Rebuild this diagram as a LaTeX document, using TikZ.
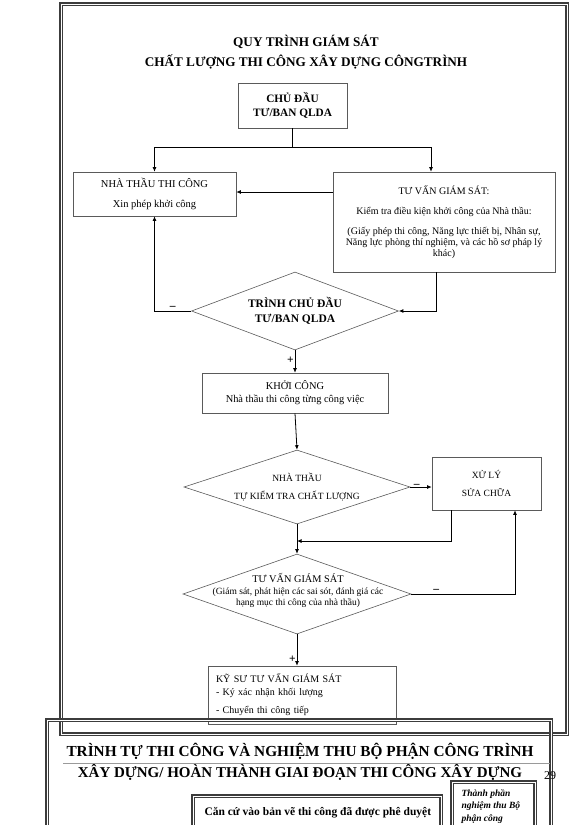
\documentclass[tikz,border=0pt]{standalone}
\usepackage{fontspec}
\setmainfont{Liberation Serif}
\usetikzlibrary{shapes.geometric,arrows.meta}
\definecolor{framegray}{HTML}{3C3C3C}
\definecolor{boxgray}{HTML}{5A5A5A}
\definecolor{rulegray}{HTML}{9A9A9A}

\begin{document}
\begin{tikzpicture}[x=1pt,y=-1pt, every node/.style={font=\fontsize{10.5}{12.5}\selectfont},
  box/.style={draw=boxgray,line width=0.6pt,rectangle,inner sep=0pt,align=center},
  dmd/.style={draw=boxgray,line width=0.6pt,diamond,inner sep=0pt},
  conn/.style={draw=black,line width=0.8pt,-{Latex[length=4.5pt,width=4pt]}},
  plain/.style={draw=black,line width=0.8pt},
  frame/.style={draw=framegray,double=white,line width=1.1pt,double distance=1pt},
  sign/.style={font=\fontsize{11.5}{12}\selectfont\bfseries,inner sep=1pt}]
  \useasboundingbox (0,0) rectangle (576,825);
  \draw[frame] (61,4) rectangle (567,734);
  \node[font=\fontsize{13.2}{15}\selectfont\bfseries] (title1) at (306,42) {QUY TRÌNH GIÁM SÁT};
  \node[font=\fontsize{13.2}{15}\selectfont\bfseries] (title2) at (306,62) {CHẤT LƯỢNG THI CÔNG XÂY DỰNG CÔNGTRÌNH};
  \node[box,minimum width=109pt,minimum height=45pt,font=\fontsize{11.3}{14}\selectfont\bfseries] (chudau) at (292.5,105.5) {CHỦ ĐẦU\\TƯ/BAN QLDA};
  \node[box,minimum width=163pt,minimum height=44pt] (nttc) at (154.5,194) {NHÀ THẦU THI CÔNG\\[7.5pt]Xin phép khởi công};
  \node[box,minimum width=222pt,minimum height=100pt,font=\fontsize{10}{11}\selectfont] (tvgs) at (444,222) {TƯ VẤN GIÁM SÁT:\\[9.5pt]Kiểm tra điều kiện khởi công của Nhà thầu:\\[9pt](Giấy phép thi công, Năng lực thiết bị, Nhân sự,\\Năng lực phòng thí nghiệm, và các hồ sơ pháp lý\\khác)};
  \node[dmd,minimum width=207pt,minimum height=78pt] (trinh) at (295,311) {};
  \node[align=center,font=\fontsize{11.5}{15}\selectfont\bfseries] (trinhtext) at (trinh) {TRÌNH CHỦ ĐẦU\\TƯ/BAN QLDA};
  \node[box,minimum width=186pt,minimum height=40pt,font=\fontsize{10.4}{13}\selectfont] (khoi) at (295,393) {KHỞI CÔNG\\Nhà thầu thi công từng công việc};
  \node[dmd,minimum width=226pt,minimum height=74pt] (tukt) at (297,487) {};
  \node[align=center,font=\fontsize{9.5}{11.5}\selectfont] (tukttext) at (tukt) {NHÀ THẦU\\[6.5pt]TỰ KIỂM TRA CHẤT LƯỢNG};
  \node[box,minimum width=109pt,minimum height=53pt,font=\fontsize{9.5}{11.5}\selectfont] (xuly) at (486.5,483.5) {XỬ LÝ\\[6.5pt]SỬA CHỮA};
  \node[dmd,minimum width=228pt,minimum height=80pt] (tvgs2) at (297,594) {};
  \node[align=center,font=\fontsize{9.5}{10.5}\selectfont] (tvgs2text) at (298,590) {{\fontsize{10.3}{11}\selectfont TƯ VẤN GIÁM SÁT}\\[2pt](Giám sát, phát hiện các sai sót, đánh giá các\\hạng mục thi công của nhà thầu)};
  \node[box,minimum width=188pt,minimum height=58pt,text width=172pt,align=left,font=\fontsize{10}{12.5}\selectfont] (kysu) at (302,695) {KỸ SƯ TƯ VẤN GIÁM SÁT\\- Ký xác nhận khối lượng\\[6pt]- Chuyển thi công tiếp};
  \coordinate (split) at (292.5,147);
  \coordinate (merge) at (297,541);
  \draw[plain] (chudau.south) -- (split);
  \draw[conn] (split) -| (nttc.north);
  \draw[conn] (split) -| ([xshift=-13pt]tvgs.north);
  \draw[conn] (tvgs.west |- 0,192) -- (nttc.east |- 0,192);
  \draw[conn] ([xshift=-8pt]tvgs.south) |- (trinh.east);
  \draw[conn] (trinh.west) -| node[sign,pos=0.25,above] {–} (nttc.south);
  \draw[conn] (trinh.south) -- node[sign,pos=0.45,left] {+} (khoi.north);
  \draw[conn] (khoi.south) -- (tukt.north);
  \draw[conn] (tukt.east) -- node[sign,pos=0.3,above=-2pt] {–} (tukt.east -| xuly.west);
  \draw[conn] ([xshift=-35pt]xuly.south) |- (merge);
  \draw[conn] (tukt.south) -- (tvgs2.north);
  \draw[conn] (tvgs2.east) -| node[sign,pos=0.12,above] {–} ([xshift=28.5pt]xuly.south);
  \draw[conn] (tvgs2.south) -- node[sign,pos=0.8,left] {+} (tvgs2.south |- kysu.north);
  % trang sau
  \draw[frame] (47,720) rectangle (551,840);
  \draw[rulegray,line width=0.6pt] (63,763) -- (550,763);
  \node[font=\fontsize{15.3}{17}\selectfont\bfseries] (title3) at (300,751) {TRÌNH TỰ THI CÔNG VÀ NGHIỆM THU BỘ PHẬN CÔNG TRÌNH};
  \node[font=\fontsize{15}{17}\selectfont\bfseries] (title4) at (300,772) {XÂY DỰNG/ HOÀN THÀNH GIAI ĐOẠN THI CÔNG XÂY DỰNG};
  \node[font=\fontsize{12}{14}\selectfont] (page) at (550,776) {29};
  \draw[frame] (193,796) rectangle (441,845);
  \node[anchor=west,font=\fontsize{11.5}{13}\selectfont\bfseries] (cancu) at (201,813) {Căn cứ vào bản vẽ thi công đã được phê duyệt};
  \draw[frame] (452,782) rectangle (535,845);
  \node[anchor=north west,align=left,font=\fontsize{9.5}{12.5}\selectfont\bfseries\itshape] (thanhphan) at (458,786) {Thành phần\\nghiệm thu Bộ\\phận công};
\end{tikzpicture}
\end{document}
